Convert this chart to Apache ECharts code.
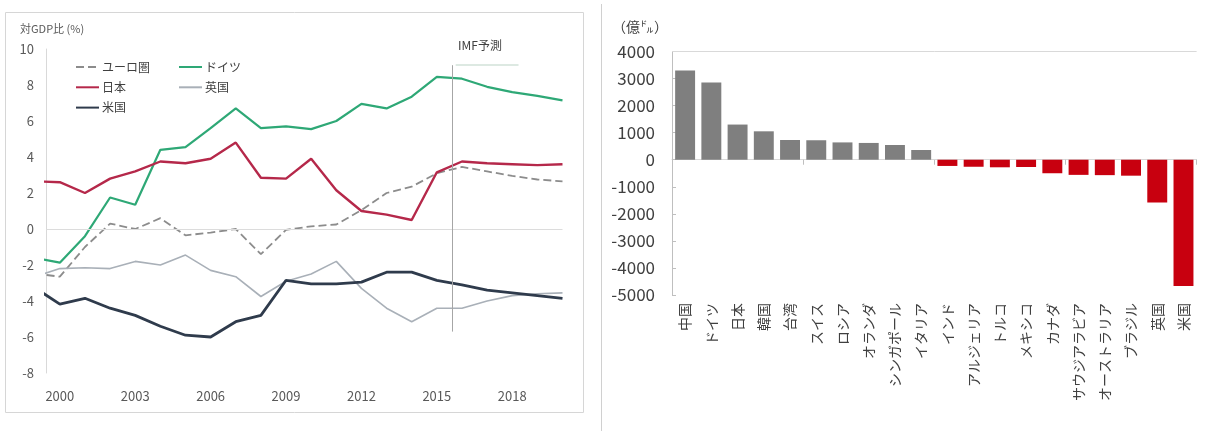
<!DOCTYPE html>
<html>
<head>
<meta charset="utf-8">
<script src="https://cdn.jsdelivr.net/npm/echarts@6/dist/echarts.min.js"></script>
<style>
  html, body { margin: 0; padding: 0; background: #ffffff; }
  #chart { width: 1210px; height: 431px; }
</style>
</head>
<body>
<div id="chart"></div>
<script>
// Current account balance, % of GDP (1999 lies just left of the plot edge)
const years = [1999, 2000, 2001, 2002, 2003, 2004, 2005, 2006, 2007, 2008, 2009,
               2010, 2011, 2012, 2013, 2014, 2015, 2016, 2017, 2018, 2019, 2020];
const euroArea = [-2.47, -2.65, -1.0, 0.3, 0.0, 0.6, -0.35, -0.2, 0.0, -1.4, -0.05,
                  0.15, 0.25, 1.05, 2.0, 2.35, 3.1, 3.45, 3.2, 2.95, 2.75, 2.65];
const germany = [-1.6, -1.87, -0.4, 1.75, 1.35, 4.4, 4.55, 5.6, 6.7, 5.6, 5.7,
                 5.55, 6.0, 6.95, 6.7, 7.35, 8.45, 8.35, 7.9, 7.6, 7.4, 7.15];
const japan = [2.65, 2.6, 2.0, 2.8, 3.2, 3.75, 3.65, 3.9, 4.8, 2.85, 2.8,
               3.9, 2.15, 1.0, 0.8, 0.5, 3.15, 3.75, 3.65, 3.6, 3.55, 3.6];
const uk = [-2.65, -2.2, -2.15, -2.2, -1.8, -2.0, -1.45, -2.3, -2.65, -3.75, -2.9,
            -2.5, -1.8, -3.3, -4.4, -5.15, -4.4, -4.4, -4.0, -3.7, -3.6, -3.55];
const us = [-3.26, -4.17, -3.85, -4.4, -4.8, -5.4, -5.9, -6.0, -5.15, -4.8, -2.85,
            -3.05, -3.05, -2.95, -2.4, -2.4, -2.85, -3.1, -3.4, -3.55, -3.7, -3.85];
const yearTicks = [2000, 2003, 2006, 2009, 2012, 2015, 2018];
const forecastStart = 2015.6;

// Current account balance by country, 100 million USD
const countries = ['中国', 'ドイツ', '日本', '韓国', '台湾', 'スイス', 'ロシア', 'オランダ',
                   'シンガポール', 'イタリア', 'インド', 'アルジェリア', 'トルコ', 'メキシコ',
                   'カナダ', 'サウジアラビア', 'オーストラリア', 'ブラジル', '英国', '米国'];
const balances = [3300, 2850, 1300, 1050, 730, 720, 640, 620, 545, 360,
                  -230, -260, -280, -270, -500, -560, -570, -590, -1580, -4670];

const FONT = '"Noto Sans CJK JP", "Noto Sans", sans-serif';
const pair = arr => years.map((y, i) => [y, arr[i]]);

const lineSeries = (name, data, color, width, type) => ({
  name, type: 'line', xAxisIndex: 0, yAxisIndex: 0,
  data: pair(data), symbol: 'none', clip: true,
  lineStyle: { color, width, type: type || 'solid' },
  itemStyle: { color },
  emphasis: { disabled: true }
});

const euroSeries = lineSeries('ユーロ圏', euroArea, '#8c8c8c', 1.8, [8, 4]);
euroSeries.markLine = {
  silent: true, symbol: 'none', animation: false,
  label: { show: false },
  data: [
    { yAxis: 0, lineStyle: { color: '#dcdcdc', width: 1, type: 'solid' } },
    [{ coord: [forecastStart, 9.1], lineStyle: { color: '#a6a6a6', width: 1, type: 'solid' } },
     { coord: [forecastStart, -5.7] }],
    [{ coord: [2015.75, 9.1], lineStyle: { color: '#dde9e2', width: 2, type: 'solid' } },
     { coord: [2018.25, 9.1] }]
  ]
};

const legendBase = {
  orient: 'vertical', top: 56, itemWidth: 23, itemHeight: 14, itemGap: 8.3,
  itemStyle: { opacity: 0 },
  textStyle: { fontSize: 12, color: '#404040', fontFamily: FONT, padding: [0, 0, 0, -2] }
};

const chart = echarts.init(document.getElementById('chart'), null, { renderer: 'canvas' });

chart.setOption({
  animation: false,
  textStyle: { fontFamily: FONT },
  title: [
    { text: '対GDP比 (%)', left: 15, top: 18,
      textStyle: { fontSize: 11, fontWeight: 'normal', color: '#595959', fontFamily: FONT } },
    { text: '（億㌦）', left: 607, top: 15,
      textStyle: { fontSize: 14, fontWeight: 'normal', color: '#404040', fontFamily: FONT } }
  ],
  legend: [
    Object.assign({ data: ['ユーロ圏', '日本', '米国'], left: 70 }, legendBase),
    Object.assign({ data: ['ドイツ', '英国'], left: 173 }, legendBase)
  ],
  grid: [
    { left: 46, top: 49, right: 647.5, height: 324 },
    { left: 672, top: 51.5, right: 13.4, height: 243.5 }
  ],
  xAxis: [
    { type: 'value', gridIndex: 0, min: 1999.45, max: 2020,
      axisLine: { show: false }, axisTick: { show: false }, splitLine: { show: false },
      axisLabel: { customValues: yearTicks, formatter: v => String(v), margin: 17,
                   fontSize: 13, color: '#595959', fontFamily: FONT,
                   showMinLabel: true, showMaxLabel: true } },
    { type: 'category', gridIndex: 1, data: countries,
      axisLine: { onZero: true, lineStyle: { color: '#d9d9d9' } },
      axisTick: { show: true, length: 5, lineStyle: { color: '#bfbfbf' } },
      axisLabel: { show: false } },
    { type: 'category', gridIndex: 1, data: countries, position: 'bottom',
      axisLine: { show: false, onZero: false }, axisTick: { show: false },
      axisLabel: { rotate: 90, margin: 8, fontSize: 14, color: '#404040', fontFamily: FONT,
                   interval: 0 } }
  ],
  yAxis: [
    { type: 'value', gridIndex: 0, min: -8, max: 10, interval: 2,
      axisLine: { show: true, lineStyle: { color: '#d9d9d9' } },
      axisTick: { show: false }, splitLine: { show: false },
      axisLabel: { fontSize: 13, color: '#595959', margin: 12, fontFamily: FONT } },
    { type: 'value', gridIndex: 1, min: -5000, max: 4000, interval: 1000,
      axisLine: { show: true, lineStyle: { color: '#bfbfbf' } },
      axisTick: { show: true, inside: true, length: 4, lineStyle: { color: '#bfbfbf' } },
      splitLine: { show: false },
      axisLabel: { fontSize: 17, color: '#404040', margin: 17, fontFamily: FONT,
                   formatter: v => String(v) } }
  ],
  series: [
    euroSeries,
    lineSeries('ドイツ', germany, '#2ea876', 2.2),
    lineSeries('英国', uk, '#a9b0b8', 1.6),
    lineSeries('日本', japan, '#b5284a', 2.4),
    lineSeries('米国', us, '#2f3b4c', 2.8),
    {
      name: 'balance', type: 'bar', xAxisIndex: 1, yAxisIndex: 1,
      data: balances, barCategoryGap: '24%',
      itemStyle: { color: p => (p.value >= 0 ? '#7f7f7f' : '#c8000f') },
      emphasis: { disabled: true },
      markLine: {
        silent: true, symbol: 'none', label: { show: false },
        lineStyle: { color: '#d9d9d9', width: 1, type: 'solid' },
        data: [{ yAxis: 4000 }]
      }
    }
  ],
  graphic: [
    { type: 'rect', silent: true, z: -1,
      shape: { x: 5.5, y: 12.5, width: 578, height: 400 },
      style: { fill: 'none', stroke: '#d6d6d6', lineWidth: 1 } },
    { type: 'line', silent: true,
      shape: { x1: 601.5, y1: 4, x2: 601.5, y2: 431 },
      style: { stroke: '#d0d0d0', lineWidth: 1 } },
    { type: 'text', silent: true, left: 458, top: 39,
      style: { text: 'IMF予測', fontSize: 12, fill: '#404040', fontFamily: FONT } }
  ]
});
</script>
</body>
</html>
